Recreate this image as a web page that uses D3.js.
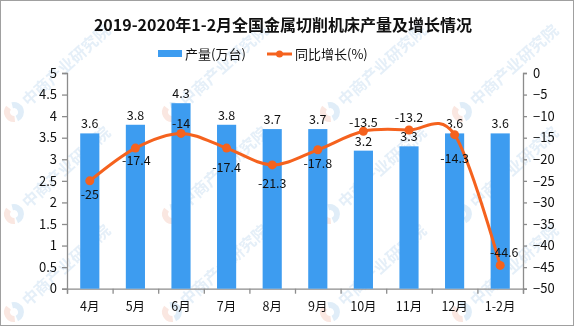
<!DOCTYPE html>
<html>
<head>
<meta charset="utf-8">
<script src="https://cdn.jsdelivr.net/npm/d3@7"></script>
<style>
html,body{margin:0;padding:0;background:#fff;}
svg{display:block;}
text{font-family:"Noto Sans CJK SC","DejaVu Sans",sans-serif;}
</style>
</head>
<body>
<svg id="chart" width="576" height="327"></svg>
<script>
// ---- data ----
const categories = ["4月","5月","6月","7月","8月","9月","10月","11月","12月","1-2月"];
const output = [3.6, 3.8, 4.3, 3.8, 3.7, 3.7, 3.2, 3.3, 3.6, 3.6];
const growth = [-25, -17.4, -14, -17.4, -21.3, -17.8, -13.5, -13.2, -14.3, -44.6];
const leftTicks = [0, 0.5, 1, 1.5, 2, 2.5, 3, 3.5, 4, 4.5, 5];
const leftTickLabels = ["0","0.5","1","1.5","2","2.5","3","3.5","4","4.5","5"];
const rightTicks = [0, -5, -10, -15, -20, -25, -30, -35, -40, -45, -50];
const rightTickLabels = ["0","-5","-10","-15","-20","-25","-30","-35","-40","-45","-50"];
const title = "2019-2020年1-2月全国金属切削机床产量及增长情况";
const seriesNames = ["产量(万台)", "同比增长(%)"];
const watermarkText = "中商产业研究院";
// label offsets for the line's data labels (style)
const lineLabelDy = [14, 12, -10, 19, 19, 14, -9, -12, 24, -13];
const lineLabelDx = [0, 1, 0, 0, 0, 0, 0, 0, 0, 4];

// ---- style ----
const barColor = "#3d9cf0";
const lineColor = "#f5621e";
const axisColor = "#8c8c8c";

const svg = d3.select("#chart");

// frame
svg.append("rect").attr("x",0.5).attr("y",0.5).attr("width",573).attr("height",325)
  .attr("fill","#fff").attr("stroke","#a0a0a0").attr("stroke-width",1);

// watermarks (kept inside the frame)
const wm = svg.append("g").attr("opacity",0.55);
const wmX = [14, 172, 330, 462];
const wmY = [112, 214, 312];
wmY.forEach(yy => {
  wmX.forEach(xx => {
    const g = wm.append("g").attr("transform", `translate(${xx},${yy}) rotate(-42)`);
    g.append("path").attr("d", d3.arc()({innerRadius:4, outerRadius:10, startAngle:Math.PI*0.15, endAngle:Math.PI*1.1}))
      .attr("fill","#c6dff2");
    g.append("path").attr("d", d3.arc()({innerRadius:4, outerRadius:10, startAngle:Math.PI*1.2, endAngle:Math.PI*1.95}))
      .attr("fill","#f6d3c8");
    g.append("text").attr("x",14).attr("y",6).attr("font-size",16).attr("font-weight","bold")
      .attr("fill","#cfe2f3").text(watermarkText);
  });
});

// scales
const plotL = 67, plotR = 523, plotT = 73, plotB = 288.7;
const x = d3.scaleBand().domain(categories).range([plotL, plotR]).paddingInner(0.58).paddingOuter(0.29);
const xc = d => x(d) + x.bandwidth()/2;
const yL = d3.scaleLinear().domain([0,5]).range([plotB, plotT]);
const yR = d3.scaleLinear().domain([-50,0]).range([plotB, plotT]);

// title
svg.append("text").attr("x",283).attr("y",31).attr("text-anchor","middle")
  .attr("font-size",16).attr("font-weight","bold").attr("fill","#111").text(title);

// legend
const lg = svg.append("g");
lg.append("rect").attr("x",158).attr("y",50).attr("width",24).attr("height",7).attr("fill",barColor);
lg.append("text").attr("x",185).attr("y",59).attr("font-size",13).attr("fill","#111").text(seriesNames[0]);
lg.append("line").attr("x1",267).attr("x2",292).attr("y1",54).attr("y2",54).attr("stroke",lineColor).attr("stroke-width",3);
lg.append("circle").attr("cx",279.5).attr("cy",54).attr("r",3.5).attr("fill",lineColor);
lg.append("text").attr("x",295).attr("y",59).attr("font-size",13).attr("fill","#111").text(seriesNames[1]);

// axes
const axL = d3.axisLeft(yL).tickValues(leftTicks).tickFormat((d,i)=>leftTickLabels[i]).tickSizeOuter(0).tickSize(5).tickPadding(5);
const gL = svg.append("g").attr("transform",`translate(${plotL},0)`).call(axL);
const axR = d3.axisRight(yR).tickValues(rightTicks).tickFormat((d,i)=>rightTickLabels[i]).tickSizeOuter(0).tickSize(4).tickPadding(6);
const gR = svg.append("g").attr("transform",`translate(${plotR},0)`).call(axR);
const xBounds = d3.scaleLinear().domain([0, categories.length]).range([plotL, plotR]);
const axX = d3.axisBottom(xBounds).tickValues(d3.range(0, categories.length+1)).tickFormat("").tickSizeOuter(0).tickSize(5);
const gX = svg.append("g").attr("transform",`translate(0,${plotB})`).call(axX);
[gL,gR,gX].forEach(g=>{
  g.selectAll("path,line").attr("stroke",axisColor).attr("stroke-width",1.3);
  g.selectAll("text").attr("font-size",13).attr("fill","#111")
    .style("font-family","'Noto Sans CJK SC','DejaVu Sans',sans-serif");
});
gR.selectAll("text").text((d,i)=>rightTickLabels[i].replace("-","−"));

// x labels
svg.append("g").selectAll("text").data(categories).join("text")
  .attr("x", d => xc(d)).attr("y", 311).attr("text-anchor","middle")
  .attr("font-size",12.5).attr("fill","#111").text(d=>d);

// bars
svg.append("g").selectAll("rect").data(output).join("rect")
  .attr("x",(d,i)=>x(categories[i])).attr("width",x.bandwidth())
  .attr("y",d=>yL(d)).attr("height",d=>plotB-yL(d)).attr("fill",barColor);

// bar labels
svg.append("g").selectAll("text").data(output).join("text")
  .attr("x",(d,i)=>xc(categories[i])).attr("y",d=>yL(d)-5).attr("text-anchor","middle")
  .attr("font-size",12.5).attr("fill","#111").text(d=>d.toFixed(1));

// line
const line = d3.line().x((d,i)=>xc(categories[i])).y(d=>yR(d)).curve(d3.curveCardinal.tension(0));
svg.append("path").datum(growth).attr("d",line).attr("fill","none")
  .attr("stroke",lineColor).attr("stroke-width",3);
svg.append("g").selectAll("circle").data(growth).join("circle")
  .attr("cx",(d,i)=>xc(categories[i])).attr("cy",d=>yR(d)).attr("r",4.5).attr("fill",lineColor);

// line labels
svg.append("g").selectAll("text").data(growth).join("text")
  .attr("x",(d,i)=>xc(categories[i]) + lineLabelDx[i]).attr("y",(d,i)=>yR(d)+lineLabelDy[i]+4.5)
  .attr("text-anchor","middle").attr("font-size",12.5).attr("fill","#111").text(d=>String(d));
</script>
</body>
</html>
